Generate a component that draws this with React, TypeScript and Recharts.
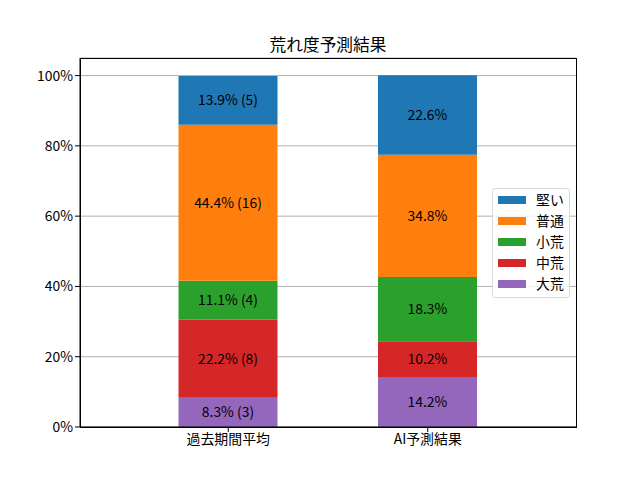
import React from 'react';
import { BarChart, Bar, XAxis, YAxis, CartesianGrid, LabelList } from 'recharts';

const categories = ['過去期間平均', 'AI予測結果'];
const seriesNames = ['大荒', '中荒', '小荒', '普通', '堅い'];
const seriesColors = ['#9467bd', '#d62728', '#2ca02c', '#ff7f0e', '#1f77b4'];
const pastValues = [8.3, 22.2, 11.1, 44.4, 13.9];
const pastCounts = [3, 8, 4, 16, 5];
const aiValues = [14.2, 10.2, 18.3, 34.8, 22.6];
const yTicks = [0, 20, 40, 60, 80, 100];

const data = categories.map((cat, ci) => {
  const row: any = { name: cat };
  seriesNames.forEach((s, si) => {
    const v = ci === 0 ? pastValues[si] : aiValues[si];
    row[s] = v;
    row[s + '_label'] = ci === 0 ? `${v.toFixed(1)}% (${pastCounts[si]})` : `${v.toFixed(1)}%`;
  });
  return row;
});

const FONT = '"Noto Sans CJK JP", "DejaVu Sans", sans-serif';
const FS = 13.9;

const LegendBox = () => {
  const items = seriesNames.map((n, i) => ({ n, c: seriesColors[i] })).reverse();
  return (
    <div
      style={{
        position: 'absolute',
        left: 492,
        top: 188,
        width: 78,
        height: 110,
        border: '1px solid #d9d9d9',
        borderRadius: 3,
        background: 'rgba(255,255,255,0.8)',
        boxSizing: 'border-box',
        fontFamily: FONT,
        fontSize: FS,
        color: '#000',
        paddingTop: 0,
      }}
    >
      {items.map((it) => (
        <div key={it.n} style={{ display: 'flex', alignItems: 'center', height: 21, marginLeft: 5 }}>
          <div style={{ width: 28, height: 8, background: it.c, marginRight: 10 }} />
          <span style={{ lineHeight: '21px' }}>{it.n}</span>
        </div>
      ))}
    </div>
  );
};

export default function App() {
  return (
    <div style={{ position: 'fixed', left: 0, top: 0, width: 640, height: 480, background: '#fff' }}>
      <div
        style={{
          position: 'absolute',
          left: 80,
          width: 496,
          top: 33,
          textAlign: 'center',
          fontFamily: FONT,
          fontSize: 16.7,
          color: '#000',
          lineHeight: '22px',
        }}
      >
        荒れ度予測結果
      </div>
      <BarChart
        width={640}
        height={480}
        data={data}
        margin={{ top: 58, right: 64, bottom: 23, left: 20 }}
        barSize={99}
      >
        <CartesianGrid vertical={false} stroke="#b0b0b0" strokeWidth={1} />
        <XAxis
          dataKey="name"
          padding={{ left: 48.5, right: 48.5 }}
          axisLine={{ stroke: '#000', strokeWidth: 1 }}
          tickLine={{ stroke: '#000' }}
          tickSize={5}
          tick={{ fill: '#000', fontSize: FS, fontFamily: FONT }}
          height={30}
        />
        <YAxis
          type="number"
          domain={[0, 105]}
          ticks={yTicks}
          allowDataOverflow
          tickFormatter={(v: number) => `${v}%`}
          axisLine={{ stroke: '#000', strokeWidth: 1 }}
          tickLine={{ stroke: '#000' }}
          tickSize={5}
          tick={{ fill: '#000', fontSize: FS, fontFamily: FONT }}
          width={60}
        />
        {seriesNames.map((s, i) => (
          <Bar key={s} dataKey={s} stackId="a" fill={seriesColors[i]} isAnimationActive={false}>
            <LabelList
              dataKey={s + '_label'}
              position="center"
              fill="#000"
              style={{ fontSize: FS, fontFamily: FONT }}
            />
          </Bar>
        ))}
      </BarChart>
      <svg style={{ position: 'absolute', left: 0, top: 0, pointerEvents: 'none' }} width={640} height={480}>
        <rect x={80.5} y={58.5} width={496} height={369} fill="none" stroke="#000" strokeWidth={1} />
      </svg>
      <LegendBox />
    </div>
  );
}
